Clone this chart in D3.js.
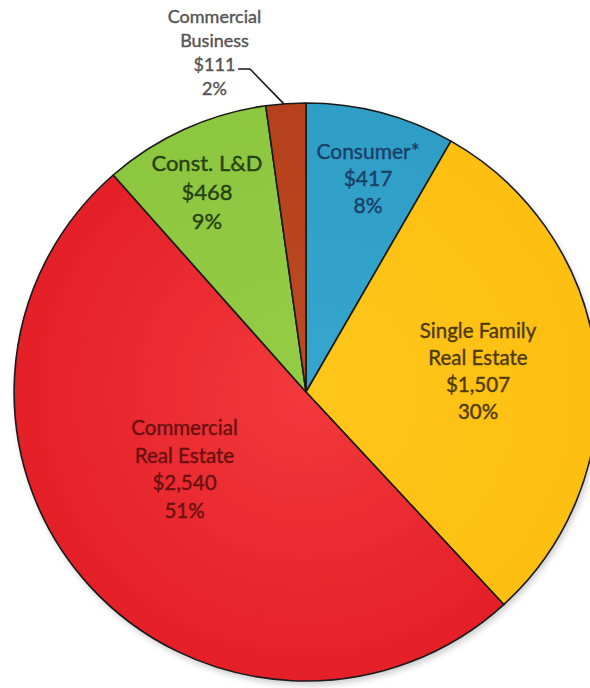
<!DOCTYPE html>
<html><head><meta charset="utf-8">
<script src="https://cdn.jsdelivr.net/npm/d3@7"></script>
<style>body{margin:0;background:#fff}svg{display:block}text{font-family:Lato,"Open Sans",sans-serif}</style>
</head><body><svg id="c" width="590" height="688"></svg>
<script>
const categories = ["Consumer*", "Single Family Real Estate", "Commercial Real Estate", "Const. L&D", "Commercial Business"];
const values = [417, 1507, 2540, 468, 111];
const valueLabels = ["$417", "$1,507", "$2,540", "$468", "$111"];
const pctLabels = ["8%", "30%", "51%", "9%", "2%"];
const labelLines = [["Consumer*"], ["Single Family", "Real Estate"], ["Commercial", "Real Estate"], ["Const. L&D"], ["Commercial", "Business"]];
const fills = ["#2f9ec7", "#fdbf10", "#e41f27", "#8dc63f", "#b4411b"];
const inner = ["#36a6cf", "#ffc61c", "#f2393c", "#95cc45", "#bc4a22"];
const textColors = ["#1b3f66", "#4f3a08", "#6a1010", "#274212", "#555555"];

const svg = d3.select("#c");
const cx = 306, cy = 392, r = 289;
const defs = svg.append("defs");
fills.forEach((f,i)=>{
  const g = defs.append("radialGradient").attr("id","g"+i).attr("gradientUnits","userSpaceOnUse")
    .attr("cx",0).attr("cy",0).attr("r",r);
  g.append("stop").attr("offset","0%").attr("stop-color",inner[i]);
  g.append("stop").attr("offset","100%").attr("stop-color",f);
});
const flt = defs.append("filter").attr("id","sh").attr("x","-10%").attr("y","-10%").attr("width","120%").attr("height","120%");
flt.append("feGaussianBlur").attr("stdDeviation",3);

const g = svg.append("g").attr("transform",`translate(${cx},${cy}) scale(1.01,1)`);
g.append("circle").attr("cx",2).attr("cy",4).attr("r",r).attr("fill","#999").attr("opacity",0.5).attr("filter","url(#sh)");

const pie = d3.pie().sort(null).startAngle(0).endAngle(2*Math.PI)(values);
const arc = d3.arc().innerRadius(0).outerRadius(r);
g.selectAll("path.s").data(pie).join("path").attr("class","s")
  .attr("d",arc).attr("fill",(d,i)=>"url(#g"+i+")")
  .attr("stroke","#1a1a1a").attr("stroke-width",1.6).attr("stroke-linejoin","round");

// label placements (first baseline, relative to pie centre)
const lab = [
  {x:62, y:-233, fs:21, lh:27},
  {x:172, y:-54, fs:20.5, lh:27},
  {x:-121.5, y:43, fs:20.5, lh:27.7},
  {x:-99, y:-221, fs:22, lh:29},
  {x:-91.5, y:-369, fs:18, lh:24}
];
lab.forEach((p,i)=>{
  const lines = labelLines[i].concat([valueLabels[i], pctLabels[i]]);
  const t = svg.append("text").attr("text-anchor","middle").attr("fill",textColors[i])
    .attr("stroke",textColors[i]).attr("stroke-width",0.4)
    .attr("font-size",p.fs);
  lines.forEach((l,k)=>{
    t.append("tspan").attr("x",cx+p.x).attr("y",cy+p.y+k*p.lh).text(l);
  });
});
// leader line for Commercial Business
const cb = pie[4];
const mid = cb.startAngle + (cb.endAngle-cb.startAngle)*0.45;
const ex = cx + r*1.01*Math.sin(mid), ey = cy - r*Math.cos(mid);
svg.append("path").attr("d",`M${cx-68},${cy-323}L${cx-56},${cy-323}L${ex},${ey}`)
  .attr("fill","none").attr("stroke","#1a1a1a").attr("stroke-width",1.6);
</script></body></html>
